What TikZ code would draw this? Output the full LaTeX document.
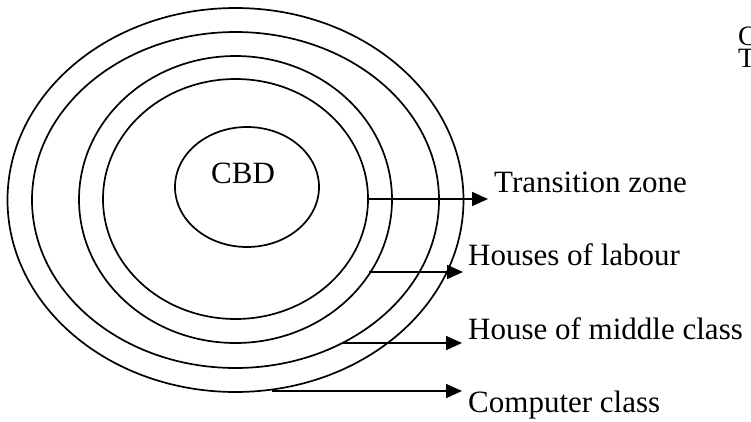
\documentclass[tikz,border=0pt]{standalone}
\usepackage{fontspec}
\setmainfont{Liberation Serif}
\usetikzlibrary{shapes.geometric,arrows.meta}
\begin{document}
\begin{tikzpicture}[x=1pt,y=-1pt,
  ring/.style={draw,ellipse,line width=1.7pt,inner sep=0pt},
  lbl/.style={anchor=base west,inner sep=0pt,font=\fontsize{31}{36}\selectfont},
  lblsm/.style={anchor=base west,inner sep=0pt,font=\fontsize{28}{32}\selectfont},
  arr/.style={line width=1.7pt,-{Triangle[length=16pt,width=14pt]}}]
\useasboundingbox (0,0) rectangle (751,421);
\node[ring,minimum width=456pt,minimum height=384pt] (z1) at (235.5,200) {};
\node[ring,minimum width=407pt,minimum height=336pt] (z2) at (235.5,200) {};
\node[ring,minimum width=313pt,minimum height=287pt] (z3) at (235.5,199.5) {};
\node[ring,minimum width=265pt,minimum height=240pt] (z4) at (235.5,199) {};
\node[ring,minimum width=144pt,minimum height=120pt] (cbd) at (247,187) {};
\node[lbl] (cbdt) at (211,183) {CBD};
\node[lbl] (t1) at (494,192) {Transition zone};
\node[lbl] (t2) at (468,265) {Houses of labour};
\node[lbl] (t3) at (468,339) {House of middle class};
\node[lbl] (t4) at (468,412) {Computer class};
\node[lblsm] (c1) at (738,45) {C};
\node[lblsm] (c2) at (738,67) {T};
\coordinate (s1) at (367,199); \coordinate (e1) at (488,199);
\coordinate (s2) at (369,272); \coordinate (e2) at (463,272);
\coordinate (s3) at (343,343); \coordinate (e3) at (462,343);
\coordinate (s4) at (272,391); \coordinate (e4) at (462,391);
\draw[arr] (s1) -- (e1);
\draw[arr] (s2) -- (e2);
\draw[arr] (s3) -- (e3);
\draw[arr] (s4) -- (e4);
\end{tikzpicture}
\end{document}
